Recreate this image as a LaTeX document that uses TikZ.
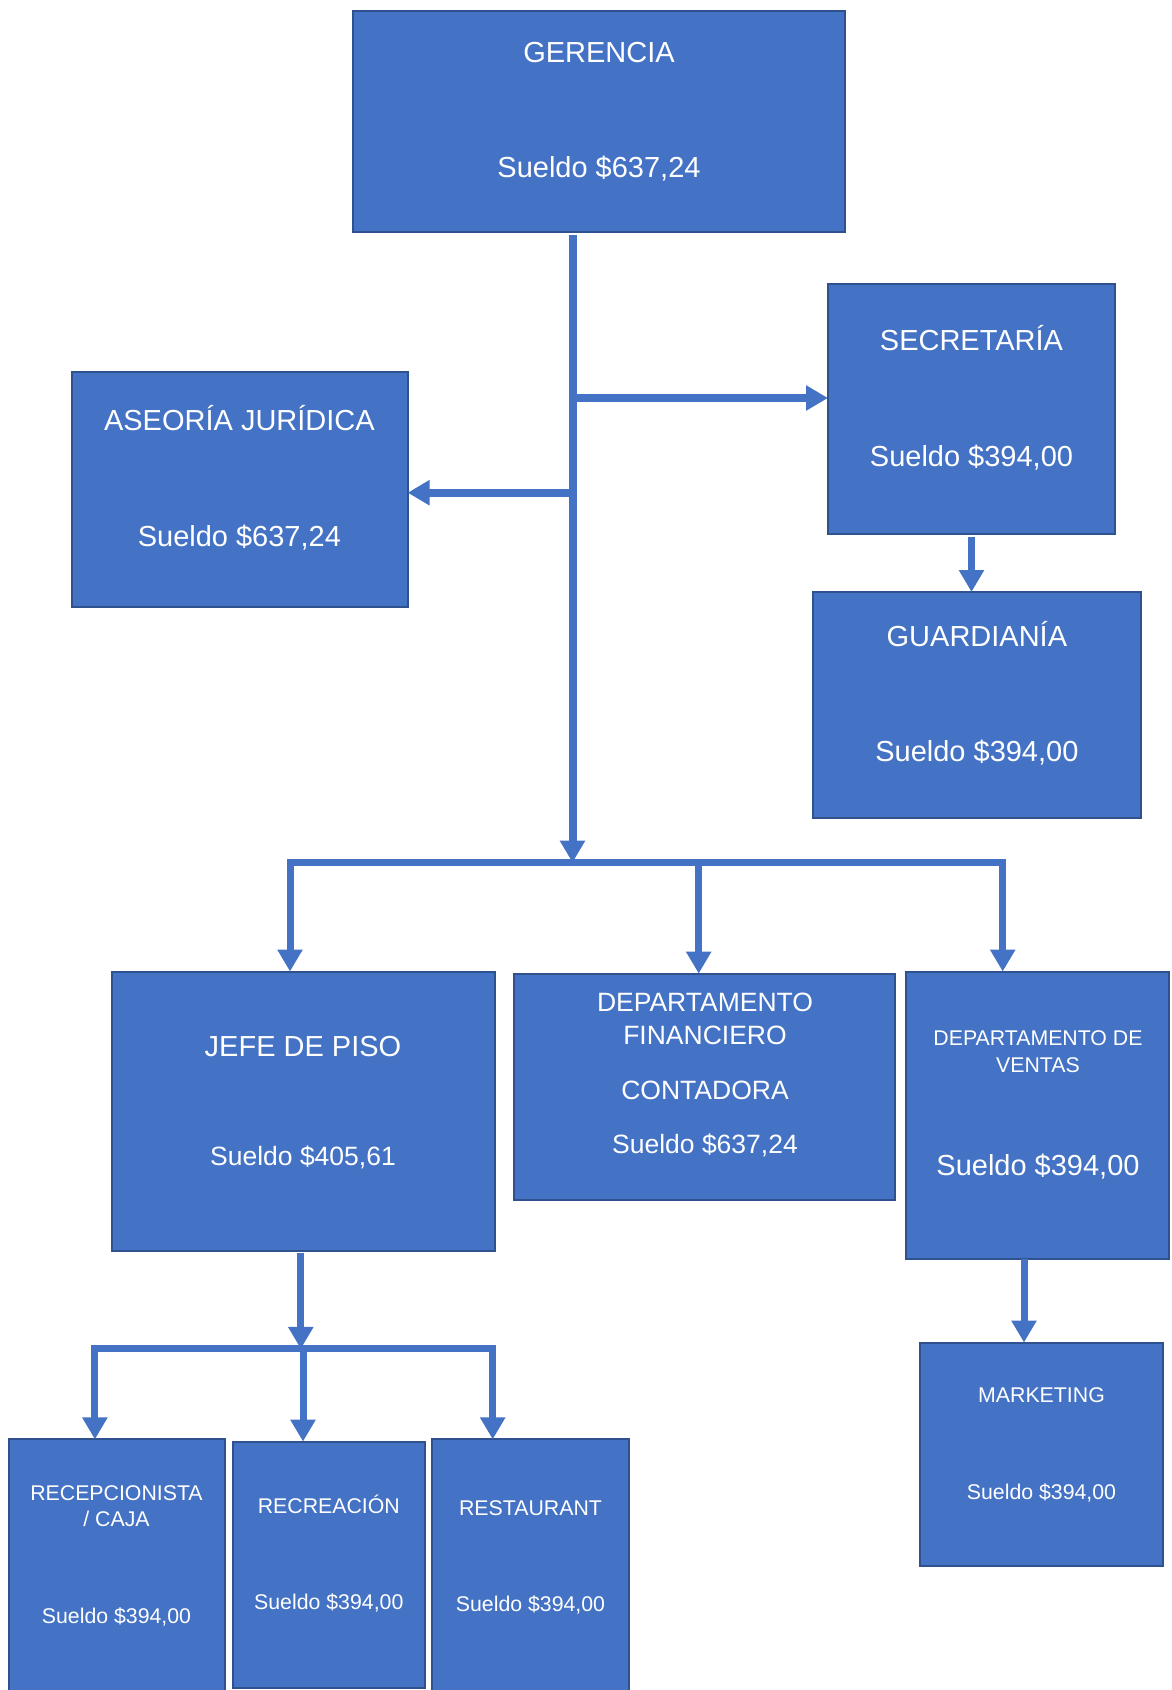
\documentclass[tikz,border=0pt]{standalone}
\usepackage{fontspec}
\setmainfont{Liberation Sans}
\usetikzlibrary{arrows.meta}
\definecolor{boxblue}{HTML}{4472C4}
\definecolor{boxedge}{HTML}{2F528F}
\newcommand\fzA{\fontsize{29}{34}\selectfont}
\newcommand\fzB{\fontsize{26.5}{31}\selectfont}
\newcommand\fzC{\fontsize{21.3}{25}\selectfont}
\begin{document}
\begin{tikzpicture}[x=1pt,y=-1pt,
  orgbox/.style={draw=boxedge, fill=boxblue, line width=2pt, inner sep=0pt, outer sep=0pt},
  lbl/.style={text=white, anchor=base, inner sep=0pt, outer sep=0pt},
  conn/.style={draw=boxblue, line width=7pt},
  trunk/.style={draw=boxblue, line width=8pt},
  tip/.style={-{Triangle[length=22pt,width=24pt]}}
]
\useasboundingbox (0,0) rectangle (1172,1690);
\fill[white] (0,0) rectangle (1172,1690);
\clip (0,0) rectangle (1172,1690);

% boxes
\node[orgbox, minimum width=492.7pt, minimum height=221pt] (ger) at (599,121.3) {};
\node[orgbox, minimum width=287pt, minimum height=250pt] (sec) at (971.5,408.7) {};
\node[orgbox, minimum width=335.4pt, minimum height=235pt] (ase) at (239.9,489.5) {};
\node[orgbox, minimum width=327.7pt, minimum height=226.4pt] (gua) at (976.9,705.2) {};
\node[orgbox, minimum width=383pt, minimum height=279pt] (jefe) at (303.5,1111) {};
\node[orgbox, minimum width=381pt, minimum height=226.4pt] (fin) at (704.5,1086.8) {};
\node[orgbox, minimum width=263pt, minimum height=287.5pt] (ven) at (1037.5,1115.3) {};
\node[orgbox, minimum width=243.7pt, minimum height=223pt] (mkt) at (1041.5,1454) {};
\node[orgbox, minimum width=216.7pt, minimum height=270pt] (rec) at (117,1574.4) {};
\node[orgbox, minimum width=192pt, minimum height=246.4pt] (recr) at (328.8,1564.8) {};
\node[orgbox, minimum width=196.2pt, minimum height=270pt] (rest) at (530.5,1574.4) {};

% labels
\node[lbl, font=\fzA] (ger-a) at (599,62.2) {GERENCIA};
\node[lbl, font=\fzA] (ger-b) at (599,177.4) {Sueldo \$637,24};
\node[lbl, font=\fzA] (sec-a) at (971.5,350) {SECRETARÍA};
\node[lbl, font=\fzA] (sec-b) at (971.5,466.4) {Sueldo \$394,00};
\node[lbl, font=\fzA] (ase-a) at (239.4,430.9) {ASEORÍA JURÍDICA};
\node[lbl, font=\fzA] (ase-b) at (239.4,546.3) {Sueldo \$637,24};
\node[lbl, font=\fzA] (gua-a) at (976.9,646.4) {GUARDIANÍA};
\node[lbl, font=\fzA] (gua-b) at (976.9,761.9) {Sueldo \$394,00};
\node[lbl, font=\fzA] (jefe-a) at (303,1056.3) {JEFE DE PISO};
\node[lbl, font=\fzB] (jefe-b) at (303,1165.3) {Sueldo \$405,61};
\node[lbl, font=\fzB] (fin-a) at (705,1011.1) {DEPARTAMENTO};
\node[lbl, font=\fzB] (fin-b) at (705,1044.5) {FINANCIERO};
\node[lbl, font=\fzB] (fin-c) at (705,1099.5) {CONTADORA};
\node[lbl, font=\fzB] (fin-d) at (705,1153.5) {Sueldo \$637,24};
\node[lbl, font=\fzC] (ven-a) at (1038,1045.7) {DEPARTAMENTO DE};
\node[lbl, font=\fzC] (ven-b) at (1038,1072.7) {VENTAS};
\node[lbl, font=\fzA] (ven-c) at (1038,1175.9) {Sueldo \$394,00};
\node[lbl, font=\fzC] (mkt-a) at (1041.5,1402.7) {MARKETING};
\node[lbl, font=\fzC] (mkt-b) at (1041.5,1499.7) {Sueldo \$394,00};
\node[lbl, font=\fzC] (rec-a) at (116.5,1500.7) {RECEPCIONISTA};
\node[lbl, font=\fzC] (rec-b) at (116.5,1526.7) {/ CAJA};
\node[lbl, font=\fzC] (rec-c) at (116.5,1623.7) {Sueldo \$394,00};
\node[lbl, font=\fzC] (recr-a) at (328.8,1513.7) {RECREACIÓN};
\node[lbl, font=\fzC] (recr-b) at (328.8,1609.7) {Sueldo \$394,00};
\node[lbl, font=\fzC] (rest-a) at (530.5,1515.7) {RESTAURANT};
\node[lbl, font=\fzC] (rest-b) at (530.5,1611.7) {Sueldo \$394,00};

% connector coordinates
\coordinate (jsec) at (572.5,398);
\coordinate (jase) at (572.5,492.7);
\coordinate (bus) at (572.5,862.6);
\coordinate (busL) at (290,862.6);
\coordinate (busM) at (698.7,862.6);
\coordinate (busR) at (1002.7,862.6);
\coordinate (bus2) at (300.8,1348.9);
\coordinate (bus2L) at (94.9,1348.9);
\coordinate (bus2M) at (303,1348.9);
\coordinate (bus2R) at (492.7,1348.9);
\coordinate (vm) at (1024,0);

% main trunk
\draw[trunk, tip, shorten <=3pt] (ger.south -| bus) -- (bus);
\draw[trunk, tip] (jsec) -- (jsec -| sec.west);
\draw[trunk, tip] (jase) -- (jase -| ase.east);
\draw[conn, tip, shorten <=3pt] (sec.south) -- (sec.south |- gua.north);

% first bus
\draw[conn, line cap=rect] (busL) -- (busR);
\draw[conn, tip] (busL) -- (busL |- jefe.north);
\draw[conn, tip] (busM) -- (busM |- fin.north);
\draw[conn, tip] (busR) -- (busR |- ven.north);

% jefe branch
\draw[conn, tip, shorten <=2pt] (jefe.south -| bus2) -- (bus2);
\draw[conn, line cap=rect] (bus2L) -- (bus2R);
\draw[conn, tip] (bus2L) -- (bus2L |- rec.north);
\draw[conn, tip] (bus2M) -- (bus2M |- recr.north);
\draw[conn, tip] (bus2R) -- (bus2R |- rest.north);

% ventas to marketing
\draw[conn, tip] (ven.south -| vm) -- (mkt.north -| vm);
\end{tikzpicture}
\end{document}
